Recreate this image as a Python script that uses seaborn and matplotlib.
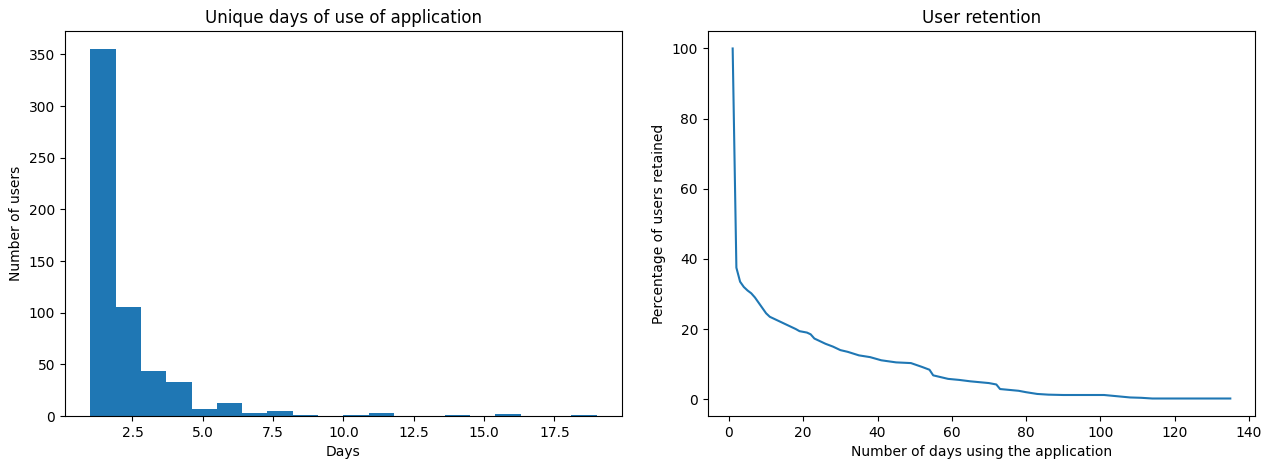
import numpy as np
import pandas as pd
import matplotlib
matplotlib.use("Agg")
import matplotlib.pyplot as plt
import seaborn as sns

# Histogram data: bin centers (days) and counts of users
hist_days = [1.45, 2.35, 3.25, 4.15, 5.05, 5.95, 6.85, 7.75, 8.65, 9.55,
             10.45, 11.35, 12.25, 13.15, 14.05, 14.95, 15.85, 16.75, 17.65, 18.55]
hist_counts = [355, 106, 44, 33, 7, 13, 3, 5, 1, 0,
               1, 3, 0, 0, 1, 0, 2, 0, 0, 1]
hist_range = (1, 19)
n_bins = 20

# Retention data
ret_days = [1, 2, 3, 4, 5, 6, 7, 8, 9, 10, 11, 12, 14, 16, 18, 19, 21, 22, 23, 24,
            26, 28, 30, 32, 35, 38, 41, 45, 49, 52, 54, 55, 57, 59, 62, 65, 68, 70, 72, 73,
            75, 78, 80, 83, 86, 90, 95, 101, 104, 108, 111, 114, 120, 128, 135]
ret_pct = [100, 37.5, 33.5, 32, 31, 30.2, 29, 27.5, 26, 24.5, 23.5, 23, 22, 21, 20, 19.4, 19, 18.5, 17.3, 16.8,
           15.8, 15, 14, 13.5, 12.5, 12, 11.1, 10.5, 10.3, 9.2, 8.4, 6.8, 6.3, 5.8, 5.5, 5.1, 4.8, 4.6, 4.2, 2.9,
           2.7, 2.4, 2.0, 1.5, 1.3, 1.2, 1.2, 1.2, 0.9, 0.5, 0.4, 0.2, 0.2, 0.2, 0.2]

hist_df = pd.DataFrame({"days": hist_days, "count": hist_counts})
ret_df = pd.DataFrame({"days": ret_days, "pct": ret_pct})

fig = plt.figure(figsize=(12.73, 4.61), dpi=100)
ax1 = fig.add_axes([0.051, 0.0976, 0.4376, 0.8352])
ax2 = fig.add_axes([0.556, 0.0976, 0.430, 0.8352])

sns.histplot(data=hist_df, x="days", weights="count", bins=n_bins, binrange=hist_range,
             ax=ax1, color="#1f77b4", alpha=1, linewidth=0, element="bars")
ax1.set_xlim(0.1, 19.9)
ax1.set_ylim(0, 372.75)
ax1.set_title("Unique days of use of application")
ax1.set_xlabel("Days")
ax1.set_ylabel("Number of users")

sns.lineplot(data=ret_df, x="days", y="pct", ax=ax2, color="#1f77b4", linewidth=1.5)
ax2.set_title("User retention")
ax2.set_xlabel("Number of days using the application")
ax2.set_ylabel("Percentage of users retained")

fig.savefig("out.png", dpi=100)
